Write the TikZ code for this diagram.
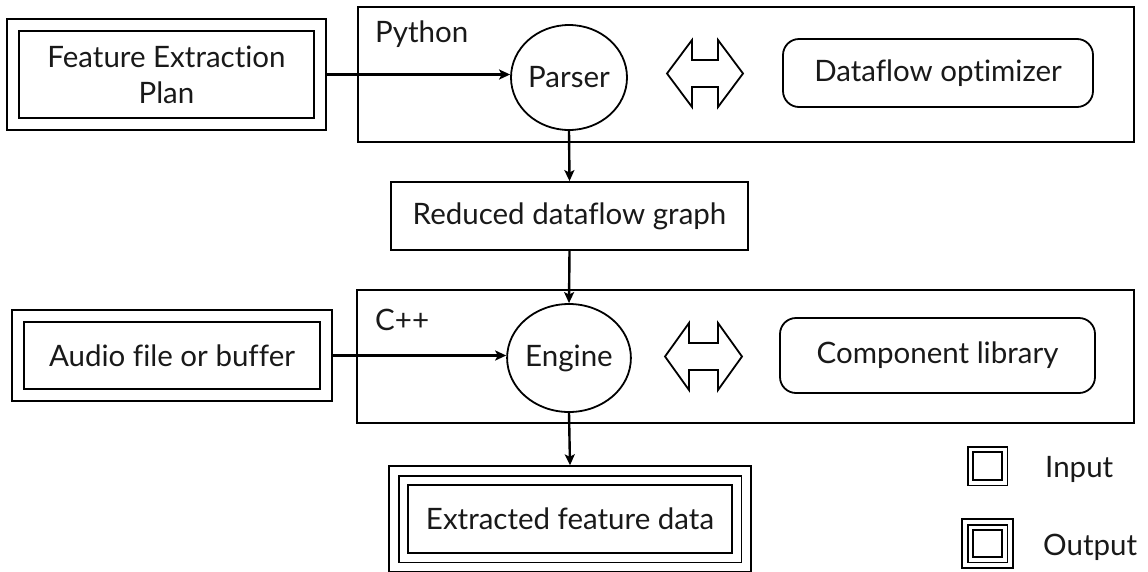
\documentclass[tikz,border=0pt]{standalone}
\usepackage{fontspec}
\setmainfont{Lato}[Ligatures=NoCommon]
\usetikzlibrary{arrows.meta,fit,shapes.geometric}
\begin{document}
\begin{tikzpicture}[x=1pt,y=-1pt,
  every node/.style={font=\fontsize{29.5}{36}\selectfont, text=black!90},
  box/.style={draw, line width=1.8pt, rectangle, inner sep=0pt, align=center},
  rbox/.style={draw, line width=1.8pt, rectangle, rounded corners=16pt, inner sep=0pt, align=center},
  oval/.style={draw, line width=1.8pt, ellipse, inner sep=0pt},
  frame/.style={draw, line width=1.8pt, rectangle, inner sep=#1},
  frame/.default=11pt,
  conn/.style={draw, line width=2.4pt, -{Stealth[length=11pt,width=10pt,inset=2.5pt]}},
  dblarrow/.style={draw, line width=1.8pt, line join=miter},
  lbl/.style={anchor=base west, inner sep=0pt}
]
\useasboundingbox (0,0) rectangle (1148,571);

% containers
\node[box, minimum width=776pt, minimum height=135pt] (python) at (746,74.5) {};
\node[lbl] (pylbl) at (375,42) {Python};
\node[box, minimum width=777pt, minimum height=133pt] (cpp) at (745.5,356.5) {};
\node[lbl] (cpplbl) at (375,330) {C++};

% input: feature extraction plan
\node[box, minimum width=295pt, minimum height=87pt] (fep) at (166.5,74.5) {Feature Extraction\\Plan};
\node[frame=11pt, fit=(fep)] (fepout) {};

% parser etc.
\node[oval, minimum width=116pt, minimum height=105pt] (parser) at (569,77.5) {Parser};
\node[rbox, minimum width=310pt, minimum height=68pt] (dfo) at (938,73) {Dataflow optimizer};
\draw[dblarrow] (667,73.5) -- (692,40) -- (692,60) -- (718,60) -- (718,40) -- (743,73.5)
  -- (718,107) -- (718,87) -- (692,87) -- (692,107) -- cycle;

% reduced graph
\node[box, minimum width=357pt, minimum height=68pt] (rdg) at (569.5,216) {Reduced dataflow graph};

% input: audio
\node[box, minimum width=296pt, minimum height=67pt] (audio) at (172,355.5) {Audio file or buffer};
\node[frame=11pt, fit=(audio)] (audioout) {};

% engine etc.
\node[oval, minimum width=116pt, minimum height=108pt] (engine) at (569,358) {Engine};
\node[rbox, minimum width=315pt, minimum height=75pt] (complib) at (937.5,355.5) {Component library};
\draw[dblarrow] (665,356.5) -- (689,323) -- (689,343) -- (718,343) -- (718,323) -- (742,356.5)
  -- (718,390) -- (718,370) -- (689,370) -- (689,390) -- cycle;

% output
\node[box, minimum width=324pt, minimum height=68pt] (efd) at (570,519) {Extracted feature data};
\node[frame=8.5pt, fit=(efd)] (efdmid) {};
\node[frame=8.5pt, fit=(efdmid)] (efdout) {};

% connectors
\path[conn] (fepout.east) -- (fepout.east -| parser.west);
\path[conn] (parser.south) -- (rdg.north);
\path[conn] (rdg.south) -- (engine.north);
\path[conn] (audioout.east) -- (audioout.east -| engine.west);
\path[conn] (engine.south) -- (efdout.north);

% legend
\node[box, minimum width=29pt, minimum height=28pt] (inicon) at (987.5,466) {};
\node[frame=4.5pt, fit=(inicon)] (inframe) {};
\node[lbl] (inlbl) at (1045,477) {Input};
\node[box, minimum width=29pt, minimum height=27pt] (outicon) at (987.5,543.5) {};
\node[frame=4.5pt, fit=(outicon)] (outmid) {};
\node[frame=4.5pt, fit=(outmid)] (outframe) {};
\node[lbl] (outlbl) at (1043,555) {Output};
\end{tikzpicture}
\end{document}
